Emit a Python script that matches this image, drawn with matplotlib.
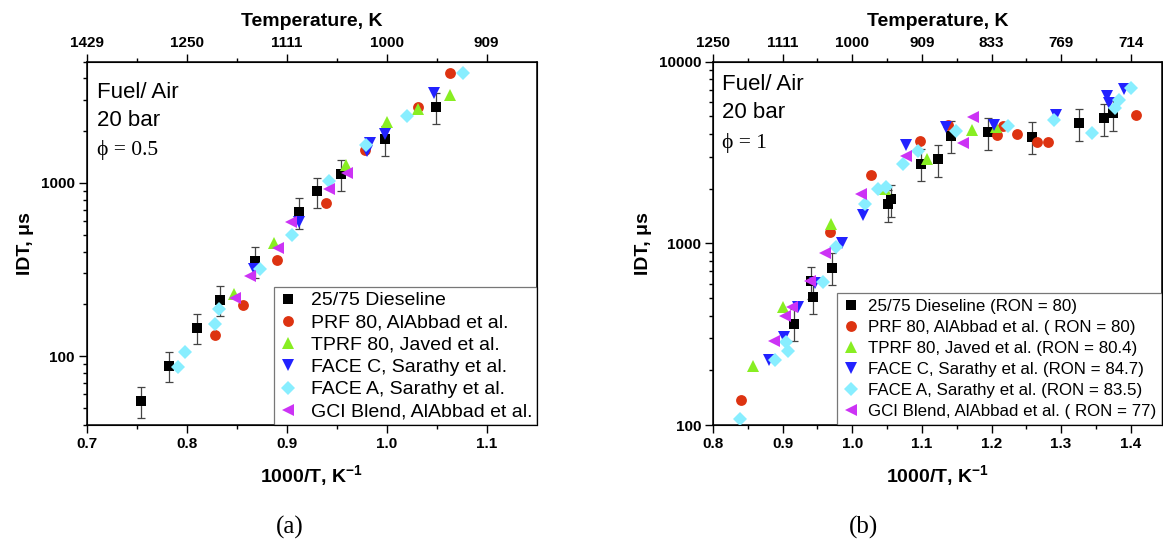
import matplotlib
matplotlib.use("Agg")
import matplotlib.pyplot as plt
from matplotlib.ticker import FixedLocator, LogLocator, NullFormatter, FixedFormatter

plt.rcParams["font.family"] = ["Liberation Sans", "DejaVu Sans"]
plt.rcParams["mathtext.fontset"] = "custom"
plt.rcParams["mathtext.rm"] = "Liberation Sans:bold"
plt.rcParams["mathtext.bf"] = "Liberation Sans:bold"
plt.rcParams["mathtext.default"] = "bf"

# ---------------- (a) phi = 0.5 ----------------
dl_a_x = [0.754, 0.782, 0.810, 0.833, 0.868, 0.912, 0.930, 0.954, 0.998, 1.049]
dl_a_y = [55, 88, 146, 212, 353, 680, 894, 1127, 1778, 2745]
prf_a_x = [0.828, 0.856, 0.890, 0.939, 0.978, 1.031, 1.063]
prf_a_y = [133, 196, 357, 767, 1556, 2730, 4310]
tprf_a_x = [0.847, 0.887, 0.959, 1.000, 1.031, 1.063]
tprf_a_y = [227, 451, 1275, 2238, 2650, 3230]
facec_a_x = [0.867, 0.912, 0.980, 0.983, 0.998, 1.047]
facec_a_y = [316, 593, 1520, 1700, 1925, 3280]
facea_a_x = [0.791, 0.798, 0.828, 0.832, 0.873, 0.905, 0.942, 0.979, 1.020, 1.076]
facea_a_y = [87, 105, 154, 186, 316, 503, 1021, 1663, 2422, 4313]
gci_a_x = [0.848, 0.863, 0.891, 0.904, 0.942, 0.960]
gci_a_y = [217, 289, 422, 593, 915, 1142]

# ---------------- (b) phi = 1 ----------------
dl_b_x = [1.3747, 1.3618, 1.3259, 1.2576, 1.1945, 1.1421, 1.1229, 1.0981, 1.0561,
          1.0512, 0.9715, 0.9437, 0.9400, 0.9165]
dl_b_y = [5210, 4890, 4590, 3870, 4090, 3910, 2910, 2740, 1750, 1640, 733, 508, 619, 362]
prf_b_x = [1.4072, 1.2805, 1.2647, 1.2367, 1.2074, 1.2160, 1.1382, 1.0966, 1.0274,
           0.9677, 0.8401]
prf_b_y = [5060, 3630, 3600, 3990, 3950, 4400, 4490, 3680, 2380, 1150, 138]
tprf_b_x = [1.2066, 1.1716, 1.1071, 1.0465, 0.9701, 0.9007, 0.8578]
tprf_b_y = [4370, 4220, 2910, 1990, 1280, 447, 210]
facec_b_x = [1.3904, 1.3665, 1.3689, 1.2925, 1.2041, 1.1349, 1.0776, 1.0154, 0.9853,
             0.9462, 0.9222, 0.9017, 0.8807]
facec_b_y = [7070, 6490, 5920, 5060, 4490, 4350, 3490, 1430, 1000, 602, 447, 305, 229]
facea_b_x = [1.4000, 1.3833, 1.3775, 1.2891, 1.3450, 1.2242, 1.1492, 1.0942, 1.0727,
             1.0489, 1.0369, 1.0178, 0.9773, 0.9581, 0.9046, 0.9079, 0.8888, 0.8387]
facea_b_y = [7160, 6170, 5560, 4750, 4070, 4440, 4130, 3240, 2740, 2050, 1990, 1650,
             958, 614, 287, 256, 229, 108]
gci_b_x = [1.1730, 1.1587, 1.0766, 1.0121, 0.9605, 0.9390, 0.9128, 0.9032, 0.8878]
gci_b_y = [4990, 3590, 3030, 1870, 881, 619, 447, 399, 290]

# measurement uncertainty of the dieseline ignition delays (percent)
dl_uncertainty_pct = 20

labels_a = ["25/75 Dieseline", "PRF 80, AlAbbad et al.", "TPRF 80, Javed et al.",
            "FACE C, Sarathy et al.", "FACE A, Sarathy et al.", "GCI Blend, AlAbbad et al."]
labels_b = ["25/75 Dieseline (RON = 80)", "PRF 80, AlAbbad et al. ( RON = 80)",
            "TPRF 80, Javed et al. (RON = 80.4)", "FACE C, Sarathy et al. (RON = 84.7)",
            "FACE A, Sarathy et al. (RON = 83.5)", "GCI Blend, AlAbbad et al. ( RON = 77)"]

temps_a = [1429, 1250, 1111, 1000, 909]
temps_b = [1250, 1111, 1000, 909, 833, 769, 714]
xticks_a = [0.7, 0.8, 0.9, 1.0, 1.1]
xticks_b = [0.8, 0.9, 1.0, 1.1, 1.2, 1.3, 1.4]

styles = [
    dict(marker="s", color="#000000", ms=7.4),
    dict(marker="o", color="#DD3311", ms=7.8),
    dict(marker="^", color="#88EE22", ms=9.2),
    dict(marker="v", color="#2222FF", ms=9.2),
    dict(marker="D", color="#88EEFF", ms=7.2),
    dict(marker="<", color="#CC33F5", ms=9.2),
]

fig = plt.figure(figsize=(11.63, 5.46), dpi=100)
ax_a = fig.add_axes([0.0745, 0.2216, 0.3869, 0.6654])
ax_b = fig.add_axes([0.6131, 0.2216, 0.3861, 0.6654])


def draw_panel(ax, series, labels, xlim, ylim, xticks, temps, leg_fs, leg_kw):
    dl_x, dl_y = series[0]
    err = [v * dl_uncertainty_pct / 100 for v in dl_y]
    ax.errorbar(dl_x, dl_y, yerr=err, fmt="none", ecolor="#444444",
                elinewidth=0.9, capsize=3.2, capthick=0.9, zorder=2)
    handles = []
    for (xs, ys), st, lab in zip(series, styles, labels):
        h, = ax.plot(xs, ys, ls="none", marker=st["marker"], ms=st["ms"],
                     mfc=st["color"], mec=st["color"], mew=0, label=lab, zorder=3)
        handles.append(h)
    ax.set_yscale("log")
    ax.set_xlim(*xlim)
    ax.set_ylim(*ylim)
    ax.xaxis.set_major_locator(FixedLocator(xticks))
    ax.xaxis.set_major_formatter(FixedFormatter([f"{t:.1f}" for t in xticks]))
    minors = [round(t + 0.05, 3) for t in xticks if t + 0.05 < xlim[1]]
    ax.xaxis.set_minor_locator(FixedLocator(minors))
    ax.yaxis.set_major_locator(LogLocator(base=10))
    ax.yaxis.set_minor_locator(LogLocator(base=10, subs=range(2, 10)))
    ax.yaxis.set_minor_formatter(NullFormatter())
    ax.yaxis.set_major_formatter(plt.FuncFormatter(lambda v, p: f"{int(round(v))}"))
    ax.tick_params(which="major", direction="out", length=5.5, width=1.0,
                   labelsize=11, pad=3)
    ax.tick_params(which="minor", direction="out", length=3, width=1.0)
    for lab in ax.get_xticklabels() + ax.get_yticklabels():
        lab.set_fontweight("bold")
    for sp in ax.spines.values():
        sp.set_linewidth(1.1)
    ax.set_xlabel(r"1000/T, K$^{-1}$", fontsize=14, fontweight="bold", labelpad=9)
    ax.set_ylabel("IDT, \u03bcs", fontsize=14, fontweight="bold", labelpad=5)

    # temperature scale along the top, one label per 1000/T gridline
    top = ax.twiny()
    top.set_xlim(*xlim)
    top.xaxis.set_major_locator(FixedLocator([round(1000.0 / t, 2) for t in temps]))
    top.xaxis.set_major_formatter(FixedFormatter([str(t) for t in temps]))
    top.xaxis.set_minor_locator(FixedLocator(minors))
    top.tick_params(which="major", direction="out", length=5.5, width=1.0,
                    labelsize=11, pad=3)
    top.tick_params(which="minor", direction="out", length=3, width=1.0)
    for lab in top.get_xticklabels():
        lab.set_fontweight("bold")
    top.set_xlabel("Temperature, K", fontsize=14, fontweight="bold", labelpad=7)

    leg = ax.legend(handles=handles, loc="lower right", fontsize=leg_fs,
                    frameon=True, fancybox=False, borderaxespad=0,
                    handlelength=1.0, **leg_kw)
    leg.get_frame().set_edgecolor("#555555")
    leg.get_frame().set_linewidth(0.9)
    return ax


series_a = [(dl_a_x, dl_a_y), (prf_a_x, prf_a_y), (tprf_a_x, tprf_a_y),
            (facec_a_x, facec_a_y), (facea_a_x, facea_a_y), (gci_a_x, gci_a_y)]
series_b = [(dl_b_x, dl_b_y), (prf_b_x, prf_b_y), (tprf_b_x, tprf_b_y),
            (facec_b_x, facec_b_y), (facea_b_x, facea_b_y), (gci_b_x, gci_b_y)]

draw_panel(ax_a, series_a, labels_a, (0.7, 1.15), (40, 5000), xticks_a, temps_a,
           14.0, dict(labelspacing=0.24, borderpad=0.22, handletextpad=0.65))
draw_panel(ax_b, series_b, labels_b, (0.8, 1.445), (100, 10000), xticks_b, temps_b,
           12.2, dict(labelspacing=0.36, borderpad=0.35, handletextpad=0.5))

# condition notes
serif = ["Liberation Serif", "DejaVu Serif"]
ax_a.text(0.023, 0.914, "Fuel/ Air", transform=ax_a.transAxes, fontsize=16, va="center")
ax_a.text(0.023, 0.8395, "20 bar", transform=ax_a.transAxes, fontsize=16, va="center")
ax_a.text(0.023, 0.757, "\u03d5 = 0.5", transform=ax_a.transAxes, fontsize=15.5,
          va="center", family=serif)
ax_b.text(0.019, 0.936, "Fuel/ Air", transform=ax_b.transAxes, fontsize=16, va="center")
ax_b.text(0.019, 0.859, "20 bar", transform=ax_b.transAxes, fontsize=16, va="center")
ax_b.text(0.019, 0.776, "\u03d5 = 1", transform=ax_b.transAxes, fontsize=15.5,
          va="center", family=serif)

fig.text(290 / 1163, 1 - 527 / 546, "(a)", fontsize=18, ha="center", va="center",
         family=serif)
fig.text(864 / 1163, 1 - 527 / 546, "(b)", fontsize=18, ha="center", va="center",
         family=serif)

fig.savefig("out.png", dpi=100, facecolor="white")
